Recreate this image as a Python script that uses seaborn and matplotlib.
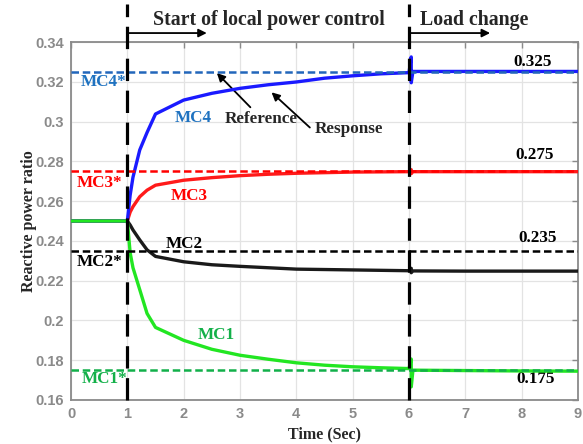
import numpy as np
import pandas as pd
import seaborn as sns
import matplotlib.pyplot as plt

# Simulation time (s); the doubled 6.04 entry holds the load-change transient
time_s = [0, 1, 1.05, 1.1, 1.22, 1.35, 1.5, 2, 2.5, 3, 3.5, 4, 4.5, 5, 5.5,
          6.0, 6.04, 6.04, 6.07, 7, 8, 9]

mc1 = [0.25, 0.25, 0.234, 0.2265, 0.2155, 0.2035, 0.1965, 0.190, 0.1855, 0.1825,
       0.1805, 0.1787, 0.1775, 0.1767, 0.1762, 0.1758, 0.1806, 0.1666, 0.1750,
       0.1748, 0.1746, 0.1745]
mc2 = [0.25, 0.25, 0.248, 0.2455, 0.2405, 0.2355, 0.2322, 0.2295, 0.2280, 0.2272,
       0.2265, 0.2258, 0.2256, 0.2254, 0.2252, 0.2250, 0.2262, 0.2240, 0.2249,
       0.2248, 0.2248, 0.2248]
mc3 = [0.25, 0.25, 0.2545, 0.2572, 0.2622, 0.2655, 0.268, 0.2705, 0.2718, 0.2728,
       0.2735, 0.2740, 0.2743, 0.2746, 0.2747, 0.2748, 0.2758, 0.2738, 0.2748,
       0.2748, 0.2748, 0.2748]
mc4 = [0.25, 0.25, 0.263, 0.272, 0.2857, 0.2945, 0.3038, 0.3108, 0.3142, 0.3167,
       0.3185, 0.3199, 0.3218, 0.3230, 0.3240, 0.3246, 0.3325, 0.3195, 0.3252,
       0.3252, 0.3252, 0.3252]

# Reference set-points
ref_names = ["MC1*", "MC2*", "MC3*", "MC4*"]
ref_values = [0.175, 0.235, 0.275, 0.325]
ref_labels = ["0.175", "0.235", "0.275", "0.325"]

x_ticks = [0, 1, 2, 3, 4, 5, 6, 7, 8, 9]
y_ticks = [0.16, 0.18, 0.2, 0.22, 0.24, 0.26, 0.28, 0.3, 0.32, 0.34]
y_tick_labels = ["0.16", "0.18", "0.2", "0.22", "0.24", "0.26", "0.28", "0.3", "0.32", "0.34"]
events = [1, 6]

sns.set_theme(style="whitegrid")
plt.rcParams["font.family"] = ["Liberation Serif", "DejaVu Serif"]

fig = plt.figure(figsize=(5.83, 4.44), dpi=100)
ax = fig.add_axes([0.1218, 0.0991, 0.8696, 0.8063])

line_colors = {"MC1": "#22e622", "MC2": "#1a1a1a", "MC3": "#ff1a1a", "MC4": "#1a1aff"}
ref_colors = {"MC1": "#12b04a", "MC2": "#000000", "MC3": "#ff0000", "MC4": "#2266bb"}
text_colors = {"MC1": "#13b049", "MC2": "#000000", "MC3": "#ff0000", "MC4": "#1f72c0"}

df = pd.DataFrame({"t": time_s, "MC1": mc1, "MC2": mc2, "MC3": mc3, "MC4": mc4})

for name in ["MC2", "MC3", "MC4", "MC1"]:
    sns.lineplot(data=df, x="t", y=name, ax=ax, estimator=None, sort=False,
                 color=line_colors[name], lw=2.4, zorder=4)

for nm, val in zip(ref_names, ref_values):
    key = nm.rstrip("*")
    ax.axhline(val, color=ref_colors[key], lw=1.8, dashes=(3.0, 1.5), zorder=5)

for ev in events:
    ax.axvline(ev, ymin=0, ymax=1.107, color="black", lw=2.3, dashes=(7, 3),
               clip_on=False, zorder=6)

ax.set_xlim(0, 9)
ax.set_ylim(0.16, 0.34)
ax.set_xticks(x_ticks)
ax.set_yticks(y_ticks)
ax.set_yticklabels(y_tick_labels)
ax.grid(True, color="#e3e3e3", lw=0.9)
for sp in ax.spines.values():
    sp.set_visible(True)
    sp.set_color("#8a8a8a")
    sp.set_linewidth(1.3)
ax.tick_params(axis="both", direction="in", length=4, width=1, color="#8a8a8a",
               top=True, right=True, labelsize=10.5, labelcolor="#8a8a8a", pad=5)
for lab in ax.get_xticklabels() + ax.get_yticklabels():
    lab.set_family(["Liberation Sans", "DejaVu Sans"])
    lab.set_fontweight("bold")

ax.set_xlabel("Time (Sec)", fontsize=11.5, fontweight="bold", labelpad=4)
ax.set_ylabel("Reactive power ratio", fontsize=11.5, fontweight="bold", labelpad=-1)

bold = dict(fontweight="bold", fontsize=12.3)

# Curve and set-point names
ax.text(0.577, 0.3199, "MC4*", color=text_colors["MC4"], ha="center", va="center", **bold)
ax.text(2.175, 0.3018, "MC4", color=text_colors["MC4"], ha="center", va="center", **bold)
ax.text(0.497, 0.2690, "MC3*", color=text_colors["MC3"], ha="center", va="center", **bold)
ax.text(2.10, 0.2627, "MC3", color=text_colors["MC3"], ha="center", va="center", **bold)
ax.text(2.015, 0.2382, "MC2", color=text_colors["MC2"], ha="center", va="center", **bold)
ax.text(0.515, ref_values[1] - 0.0058, "MC2*", color=text_colors["MC2"], ha="center", va="center", **bold)
ax.text(2.57, 0.1927, "MC1", color=text_colors["MC1"], ha="center", va="center", **bold)
ax.text(0.595, 0.1704, "MC1*", color=text_colors["MC1"], ha="center", va="center", **bold)

# Set-point values at the right
offsets = [-0.0046, 0.0063, 0.0082, 0.0051]
xs = [8.25, 8.29, 8.23, 8.19]
for val, lab, off, xv in zip(ref_values, ref_labels, offsets, xs):
    ax.text(xv, val + off, lab, color="black", ha="center", va="center", **bold)

# Pointer arrows
arrow = dict(arrowstyle="-|>", color="black", lw=1.3, mutation_scale=12)
ax.annotate("Reference", xy=(2.59, 0.3244), xytext=(3.38, 0.3015),
            ha="center", va="center", arrowprops=dict(arrow, shrinkA=0, shrinkB=0),
            **bold)
ax.annotate("", xy=(3.56, 0.3147), xytext=(4.24, 0.2970),
            arrowprops=dict(arrow, shrinkA=0, shrinkB=0))
ax.text(4.32, 0.2963, "Response", ha="left", va="center", **bold)

# Event markers above the plot
top = dict(fontweight="bold", fontsize=14.3)
ax.annotate("", xy=(2.41, 0.3445), xytext=(1.0, 0.3445), annotation_clip=False,
            arrowprops=dict(arrow, shrinkA=0, shrinkB=0))
ax.text(1.46, 0.3510, "Start of local power control", ha="left", va="center",
        clip_on=False, **top)
ax.annotate("", xy=(7.44, 0.3445), xytext=(6.02, 0.3445), annotation_clip=False,
            arrowprops=dict(arrow, shrinkA=0, shrinkB=0))
ax.text(6.2, 0.3510, "Load change", ha="left", va="center", clip_on=False, **top)

fig.savefig("out.png", dpi=100)
